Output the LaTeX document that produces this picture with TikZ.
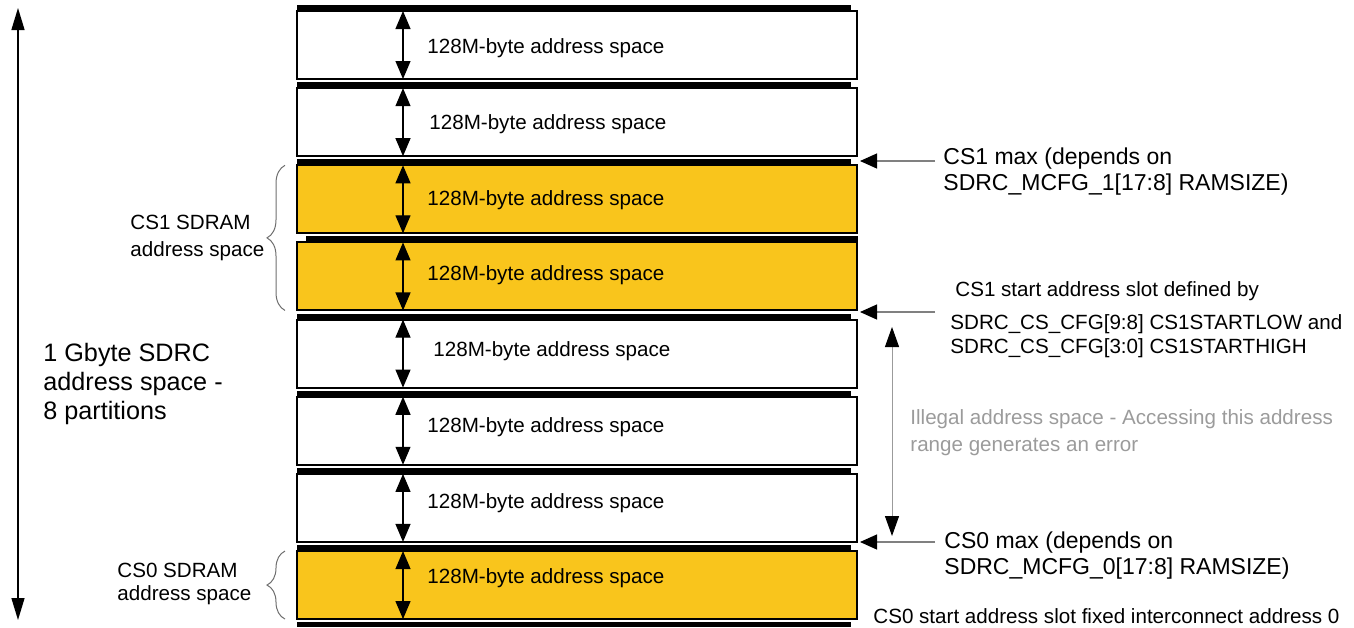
\documentclass[tikz,border=0pt]{standalone}
\usepackage{fontspec}
\setmainfont{Liberation Sans}
\usetikzlibrary{arrows.meta, positioning, calc, decorations.pathreplacing}
\definecolor{ramyellow}{RGB}{249,197,28}
\definecolor{illgray}{RGB}{155,155,155}
\definecolor{bracegray}{RGB}{110,110,110}

\begin{document}
\begin{tikzpicture}[x=0.5pt, y=-0.5pt,
  slot/.style={draw=black, line width=1pt, anchor=north west, minimum width=280pt, minimum height=34pt, inner sep=0pt, outer sep=0pt},
  slottext/.style={anchor=west, inner sep=0pt, font=\fontsize{10.3}{12}\selectfont},
  sizearrow/.style={{Triangle[width=7.5pt,length=9pt]}-{Triangle[width=7.5pt,length=9pt]}, line width=0.6pt},
  ptrarrow/.style={-{Triangle[width=7.5pt,length=8.5pt,color=black]}, draw=gray, line width=0.6pt},
  illarrow/.style={{Triangle[width=7pt,length=10pt,color=black]}-{Triangle[width=7pt,length=10pt,color=black]}, draw=illgray, line width=0.5pt},
  spanbrace/.style={decorate, decoration={brace, amplitude=9pt}, draw=bracegray, line width=0.5pt},
  sidenote/.style={anchor=west, inner sep=0pt, align=left}
]
  \useasboundingbox (0,0) rectangle (1354,627);

  \foreach \i/\col/\bl/\br/\tx/\ty in {1/white/297/851/427/48, 2/white/297/851/429/124, 3/ramyellow/297/851/427/200, 4/ramyellow/306/858/427/275, 5/white/297/851/433/351, 6/white/297/851/427/427, 7/white/297/851/427/503, 8/ramyellow/297/851/427/578}{
    \pgfmathsetmacro{\yb}{5+77.15*(\i-1)}
    \fill (\bl,\yb) rectangle (\br,\yb+6);
    \node[slot, fill=\col] (p\i) at (297,\yb+6) {};
    \draw[sizearrow] ($(p\i.north west)+(106,0)$) -- ($(p\i.south west)+(106,0)$);
    \node[slottext] (t\i) at (\tx,\ty) {128M-byte address space};
  }
  \fill (297,622) rectangle (851,627);

  \coordinate (gtop) at (18,8);
  \coordinate (gbot) at (18,620);
  \draw[{Triangle[width=6.5pt,length=11pt]}-{Triangle[width=6.5pt,length=11pt]}, line width=0.7pt] (gtop) -- (gbot);
  \node[sidenote, font=\fontsize{12.6}{14.3}\selectfont] (total) at (43,384) {1 Gbyte SDRC\\address space -\\8 partitions};

  \draw[spanbrace] ([xshift=-6pt]p4.south west) -- ([xshift=-6pt]p3.north west);
  \node[sidenote, font=\fontsize{10.3}{13.5}\selectfont] (cs1span) at (130,238) {CS1 SDRAM\\address space};
  \draw[spanbrace] ([xshift=-6pt]p8.south west) -- ([xshift=-6pt]p8.north west);
  \node[sidenote, font=\fontsize{10.3}{11.5}\selectfont] (cs0span) at (117,584) {CS0 SDRAM\\address space};

  \node[sidenote, font=\fontsize{11.5}{13}\selectfont] (cs1max) at (943,172) {CS1 max (depends on\\SDRC\_MCFG\_1[17:8] RAMSIZE)};
  \node[sidenote, font=\fontsize{10.3}{12}\selectfont] (cs1start) at (955,291) {CS1 start address slot defined by};
  \node[sidenote, font=\fontsize{10.3}{12}\selectfont] (cs1reg) at (950,336) {SDRC\_CS\_CFG[9:8] CS1STARTLOW and\\SDRC\_CS\_CFG[3:0] CS1STARTHIGH};
  \node[sidenote, text=illgray, font=\fontsize{10.3}{13.5}\selectfont] (illegal) at (910,433) {Illegal address space - Accessing this address\\range generates an error};
  \node[sidenote, font=\fontsize{11.5}{13}\selectfont] (cs0max) at (944,556) {CS0 max (depends on\\SDRC\_MCFG\_0[17:8] RAMSIZE)};
  \node[sidenote, font=\fontsize{10.3}{12}\selectfont] (cs0start) at (873,616) {CS0 start address slot fixed interconnect address 0};

  \coordinate (cs1maxtip) at (860,161);
  \coordinate (cs1maxtail) at (935,161);
  \coordinate (cs1starttip) at (860,312);
  \coordinate (cs1starttail) at (935,312);
  \coordinate (cs0maxtip) at (860,542);
  \coordinate (cs0maxtail) at (935,542);
  \draw[ptrarrow] (cs1maxtail) -- (cs1maxtip);
  \draw[ptrarrow] (cs1starttail) -- (cs1starttip);
  \draw[ptrarrow] (cs0maxtail) -- (cs0maxtip);

  \coordinate (illtop) at (892,327);
  \coordinate (illbot) at (892,536);
  \draw[illarrow] (illtop) -- (illbot);
\end{tikzpicture}
\end{document}
